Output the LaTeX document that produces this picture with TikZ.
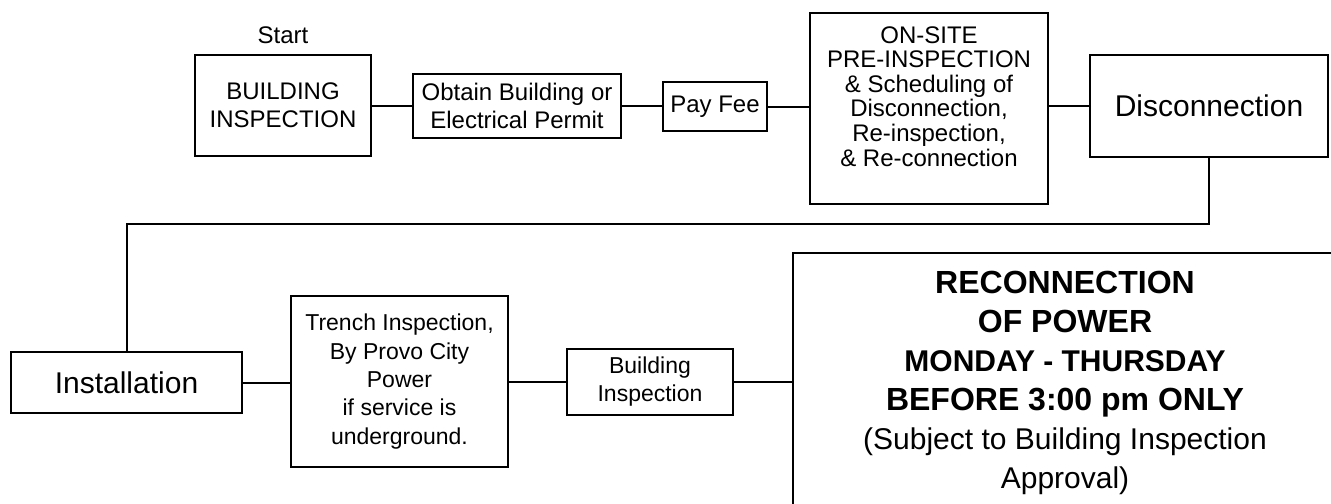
\documentclass[tikz,border=0pt]{standalone}
\usepackage{fontspec}
\setmainfont{Liberation Sans}
\usetikzlibrary{positioning}

\tikzstyle{box} = [draw, line width=1pt, align=center, inner sep=0pt]
\tikzstyle{link} = [draw, line width=1pt]

\begin{document}
\begin{tikzpicture}[x=0.5pt, y=-0.5pt]
    % page
    \useasboundingbox (0,0) rectangle (1331,503);
    \clip (0,0) rectangle (1331,503);

    % first row
    \node[box, minimum width=88pt, minimum height=50.5pt, font=\fontsize{12}{14}\selectfont] (bi) at (283,105.5) {BUILDING\\INSPECTION};
    \node[inner sep=0pt, above=5pt of bi, font=\fontsize{12}{14}\selectfont] (start) {Start};
    \node[box, minimum width=104pt, minimum height=32pt, font=\fontsize{12}{14}\selectfont] (permit) at (517,106) {Obtain Building or\\Electrical Permit};
    \node[box, minimum width=52pt, minimum height=24.5pt, font=\fontsize{12}{14}\selectfont] (fee) at (715,106.5) {Pay Fee};
    \node[box, minimum width=119pt, minimum height=95.5pt, font=\fontsize{12}{12.3}\selectfont] (onsite) at (929,108.5)
        {ON-SITE\\PRE-INSPECTION\\\& Scheduling of\\Disconnection,\\Re-inspection,\\\& Re-connection\\\mbox{}};
    \node[box, minimum width=119pt, minimum height=51pt, font=\fontsize{15}{18}\selectfont] (disc) at (1209,106) {Disconnection};

    % second row
    \node[box, minimum width=115.5pt, minimum height=30.5pt, font=\fontsize{15}{18}\selectfont] (install) at (126.5,382.5) {Installation};
    \node[box, minimum width=108.5pt, minimum height=85.5pt, font=\fontsize{11.5}{14.2}\selectfont] (trench) at (399.5,381.5)
        {Trench Inspection,\\By Provo City\\Power\\if service is\\underground.};
    \node[box, minimum width=83pt, minimum height=33pt, font=\fontsize{11.5}{14}\selectfont] (bldg) at (650,382) {Building\\Inspection};
    \node[box, minimum width=272pt, minimum height=130pt, font=\bfseries\fontsize{16}{19.5}\selectfont] (recon) at (1065,383)
        {RECONNECTION\\OF POWER\\{\fontsize{15}{19.5}\selectfont MONDAY - THURSDAY}\\BEFORE 3:00 pm ONLY\\
         {\mdseries\fontsize{15}{19.5}\selectfont (Subject to Building Inspection}\\{\mdseries\fontsize{15}{19.5}\selectfont Approval)}};

    % links
    \coordinate (turn) at (126.5,224);
    \draw[link] (bi.east) -- (bi.east -| permit.west);
    \draw[link] (permit.east) -- (permit.east -| fee.west);
    \draw[link] (fee.east) -- (fee.east -| onsite.west);
    \draw[link] (disc.west -| onsite.east) -- (disc.west);
    \draw[link] (disc.south) |- (turn) -- (install.north);
    \draw[link] (install.east) -- (install.east -| trench.west);
    \draw[link] (trench.east) -- (trench.east -| bldg.west);
    \draw[link] (bldg.east) -- (bldg.east -| recon.west);
\end{tikzpicture}
\end{document}
